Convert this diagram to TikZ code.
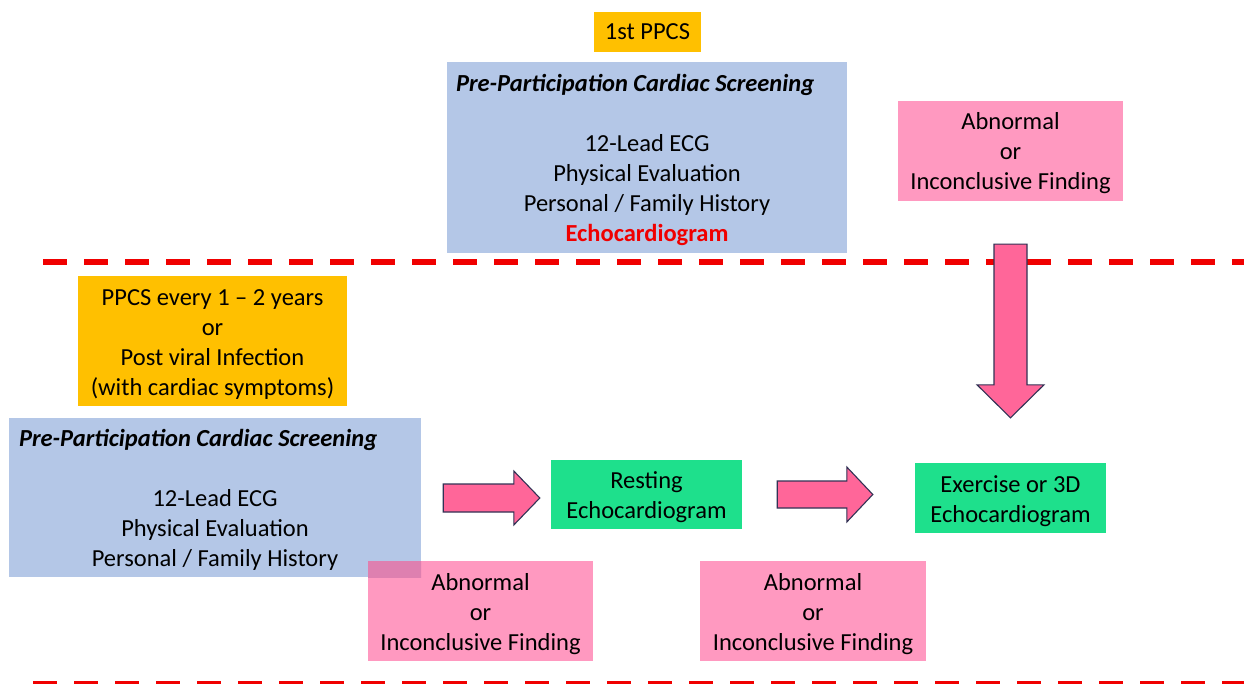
\documentclass[tikz,border=0pt]{standalone}
\usepackage{fontspec}
\setmainfont{Carlito}
\usetikzlibrary{calc}

\definecolor{gold}{RGB}{255,192,0}
\definecolor{paleblue}{RGB}{180,199,231}
\definecolor{softpink}{RGB}{255,153,192}
\definecolor{hotpink}{RGB}{255,102,153}
\definecolor{mint}{RGB}{30,224,140}
\definecolor{dashred}{RGB}{240,0,0}
\definecolor{arrowedge}{RGB}{50,50,85}
\definecolor{mixpink}{RGB}{222,128,176}

% struts that fix the first-line height and last-line depth of a text block
\newcommand\firstlinestrut{\rule{0pt}{24pt}}
\newcommand\lastlinestrut{\rule[-6pt]{0pt}{6pt}}

\tikzset{
  every node/.style={font=\fontsize{24.5}{30}\selectfont, text=black, inner sep=0pt},
  textblock/.style={align=center},
  panel/.style={rectangle, textblock},
  goldbox/.style={panel, fill=gold},
  screenbox/.style={panel, fill=paleblue},
  findbox/.style={panel, fill=softpink},
  echobox/.style={panel, fill=mint},
  sectionline/.style={draw=dashred, line width=6pt, dash pattern=on 23.5pt off 17.5pt},
  blockarrow/.style={fill=hotpink, draw=arrowedge, line width=1.1pt, line join=miter},
  heading/.style={font=\fontsize{24.5}{30}\selectfont\bfseries\itshape, anchor=base west},
}

\begin{document}
\begin{tikzpicture}[x=1pt, y=-1pt]
\useasboundingbox[fill=white] (0,0) rectangle (1244,684);

% section separators
\draw[sectionline] (43,262) -- (1250,262);
\draw[sectionline] (33,683.5) -- (1250,683.5);

% first screening
\node[goldbox, minimum width=107pt, minimum height=40pt] (first) at (647.5,32) {1st PPCS};
\node[screenbox, minimum width=400pt, minimum height=191pt] (tb) at (647,157.5) {};
\node[heading] (tbh) at ($(tb.north west)+(9,30)$) {Pre-Participation Cardiac Screening};
\node[textblock] (tbl) at ($(tb.center)+(0,30)$)
  {\firstlinestrut 12-Lead ECG\\Physical Evaluation\\Personal / Family History\\
   \textcolor{dashred}{\bfseries Echocardiogram}\lastlinestrut};
\node[findbox, minimum width=225pt, minimum height=100pt] (tp) at (1010.5,151)
  {\firstlinestrut Abnormal\\or\\Inconclusive Finding\lastlinestrut};

% follow-up screening
\node[goldbox, minimum width=269pt, minimum height=130pt] (gold2) at (212.5,341)
  {\firstlinestrut PPCS every 1 – 2 years\\or\\Post viral Infection\\(with cardiac symptoms)\lastlinestrut};
\node[screenbox, minimum width=412pt, minimum height=159pt] (bb) at (215,497.5) {};
\node[findbox, minimum width=225pt, minimum height=100pt] (pl) at (480.5,611)
  {\firstlinestrut Abnormal\\or\\Inconclusive Finding\lastlinestrut};
\begin{scope}
  \clip (bb.south west) rectangle (bb.north east);
  \fill[mixpink] (pl.south west) rectangle (pl.north east);
\end{scope}
\node[heading] (bbh) at ($(bb.north west)+(10,28.5)$) {Pre-Participation Cardiac Screening};
\node[textblock] (bbl) at ($(bb.center)+(0,29.5)$)
  {\firstlinestrut 12-Lead ECG\\Physical Evaluation\\Personal / Family History\lastlinestrut};

\node[echobox, minimum width=191pt, minimum height=69pt] (rest) at (646.5,494.5)
  {\firstlinestrut Resting\\Echocardiogram\lastlinestrut};
\node[findbox, minimum width=226pt, minimum height=100pt] (pm) at (813,611)
  {\firstlinestrut Abnormal\\or\\Inconclusive Finding\lastlinestrut};
\node[echobox, minimum width=191pt, minimum height=70pt] (ex) at (1010.5,498)
  {\firstlinestrut Exercise or 3D\\Echocardiogram\lastlinestrut};

% block arrows
\coordinate (a1t) at ($(bb.east)+(22,0.5)$);
\coordinate (a1h) at ($(rest.west)+(-11,3.5)$);
\draw[blockarrow] ($(a1t)+(0,-14)$) -- ($(a1h)+(-26,-14)$) -- ($(a1h)+(-26,-27)$) -- (a1h)
  -- ($(a1h)+(-26,27)$) -- ($(a1h)+(-26,14)$) -- ($(a1t)+(0,14)$) -- cycle;

\coordinate (a2t) at ($(rest.east)+(35,0)$);
\coordinate (a2h) at ($(ex.west)+(-42,-3.5)$);
\draw[blockarrow] ($(a2t)+(0,-13.5)$) -- ($(a2h)+(-26,-13.5)$) -- ($(a2h)+(-26,-27.5)$) -- (a2h)
  -- ($(a2h)+(-26,27.5)$) -- ($(a2h)+(-26,13.5)$) -- ($(a2t)+(0,13.5)$) -- cycle;

\coordinate (a3t) at ($(tp.south)+(0,43)$);
\coordinate (a3h) at ($(ex.north)+(0,-45)$);
\draw[blockarrow] ($(a3t)+(-16.5,0)$) -- ($(a3h)+(-16.5,-33)$) -- ($(a3h)+(-33.5,-33)$) -- (a3h)
  -- ($(a3h)+(33.5,-33)$) -- ($(a3h)+(16.5,-33)$) -- ($(a3t)+(16.5,0)$) -- cycle;
\end{tikzpicture}
\end{document}
